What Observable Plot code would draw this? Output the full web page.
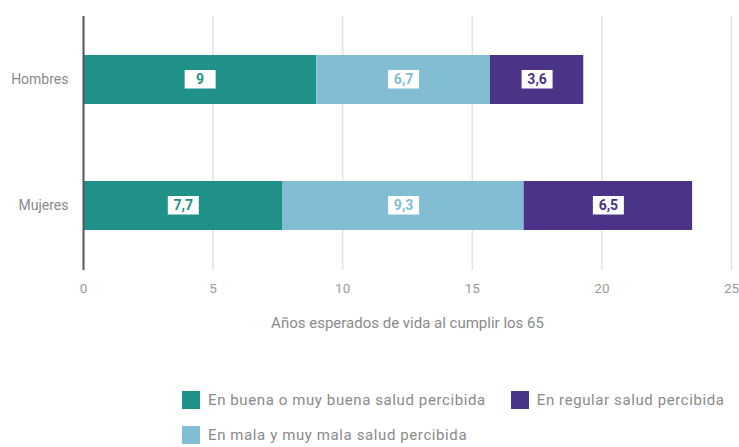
<!DOCTYPE html>
<html>
<head>
<meta charset="utf-8">
<script src="https://cdn.jsdelivr.net/npm/d3@7"></script>
<script src="https://cdn.jsdelivr.net/npm/@observablehq/plot@0.6"></script>
<style>
  body { margin: 0; background: #fff; font-family: Roboto, sans-serif; }
  #chart svg { display: block; }
  .legend { display: flex; flex-wrap: wrap; margin-left: 182px; width: 555px; margin-top: 46px; row-gap: 17px; column-gap: 25px; }
  .item { display: flex; align-items: center; font-size: 15px; color: #8a8a8a; letter-spacing: 0.6px; height: 18px; }
  .sw { width: 18px; height: 18px; margin-right: 8px; flex: none; }
</style>
</head>
<body>
<div id="chart"></div>
<div class="legend" id="legend"></div>
<script>
const sexos = ["Hombres", "Mujeres"];
const categorias = ["En buena o muy buena salud percibida", "En mala y muy mala salud percibida", "En regular salud percibida"];
const buena = [9, 7.7];
const mala = [6.7, 9.3];
const regular = [3.6, 6.5];
const colores = ["#1f9189", "#83bdd3", "#4b3387"];
const xTicks = [0, 5, 10, 15, 20, 25];
const legendOrder = [0, 2, 1];

const series = [buena, mala, regular];
const data = [];
sexos.forEach((s, i) => {
  categorias.forEach((c, j) => {
    data.push({sexo: s, cat: c, value: series[j][i]});
  });
});
const fmt = v => String(v).replace(".", ",");

const plot = Plot.plot({
  width: 739,
  height: 345,
  marginLeft: 83,
  marginRight: 8,
  marginTop: 16,
  marginBottom: 75,
  style: {fontFamily: "Roboto, sans-serif", background: "white"},
  x: {domain: [0, 25]},
  y: {domain: sexos, paddingInner: 0.61, paddingOuter: 0.31},
  color: {domain: categorias, range: colores},
  marks: [
    Plot.ruleX(xTicks.slice(1), {stroke: "#e3e3e3", strokeWidth: 1.5}),
    Plot.barX(data, Plot.stackX({x: "value", y: "sexo", z: "cat", fill: "cat", order: categorias})),
    Plot.tickX(data, Plot.stackX({x: "value", y: "sexo", z: "cat", order: categorias, stroke: "white", strokeWidth: 31, insetTop: 15, insetBottom: 15.5})),
    Plot.text(data, Plot.stackX({x: "value", y: "sexo", z: "cat", order: categorias, text: d => fmt(d.value), fill: "cat", fontSize: 14, fontWeight: "bold", letterSpacing: 0.5})),
    Plot.ruleX([0], {stroke: "#555", strokeWidth: 2}),
    Plot.axisY({tickSize: 0, tickPadding: 15, fontSize: 14, color: "#8a8a8a", label: null, letterSpacing: 0.6}),
    Plot.axisX({ticks: xTicks, tickSize: 0, tickPadding: 13, fontSize: 13.5, color: "#9a9a9a", tickFormat: d => d, label: null}),
    Plot.text(["Años esperados de vida al cumplir los 65"], {frameAnchor: "bottom", dy: 57, text: d => d, fontSize: 15, fill: "#8a8a8a", letterSpacing: 0.3})
  ]
});
document.getElementById("chart").appendChild(plot);

const legend = document.getElementById("legend");
legendOrder.forEach(j => {
  const it = document.createElement("div");
  it.className = "item";
  const sw = document.createElement("span");
  sw.className = "sw";
  sw.style.background = colores[j];
  it.appendChild(sw);
  it.appendChild(document.createTextNode(categorias[j]));
  legend.appendChild(it);
});
</script>
</body>
</html>
